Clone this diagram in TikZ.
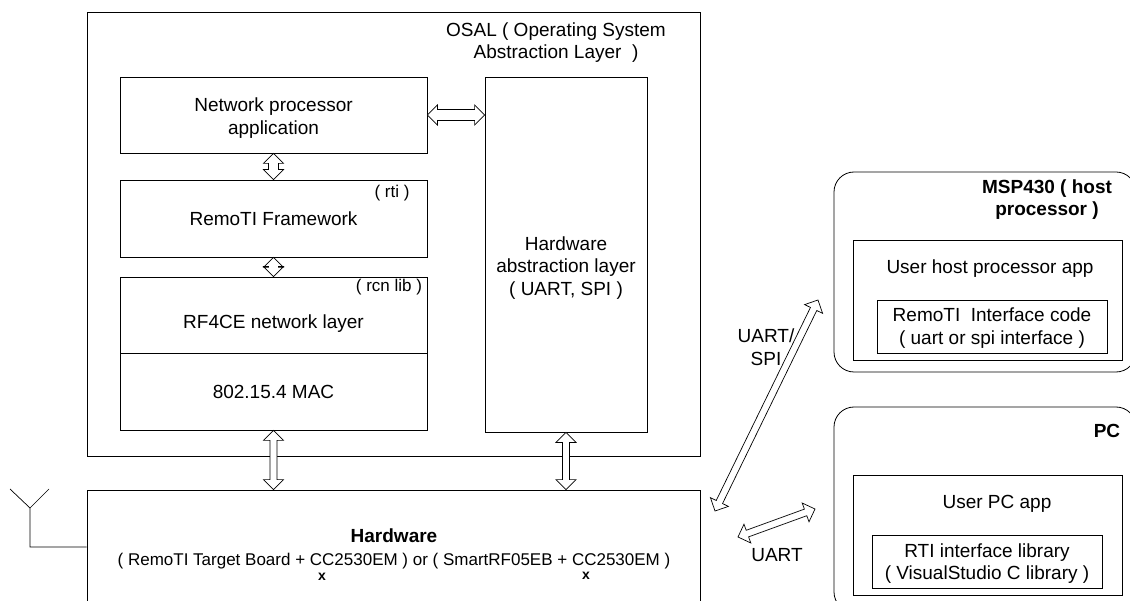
\documentclass[tikz,border=0pt]{standalone}
\usepackage{fontspec}
\setmainfont{Liberation Sans}
\usetikzlibrary{calc}

\newcommand{\smalltxt}{\fontsize{17}{22.7}\selectfont}

\tikzset{
  every node/.style={font=\fontsize{19}{22.7}\selectfont, align=center},
  box/.style={draw, line width=0.8pt, inner sep=0pt, minimum width=#1},
  roundbox/.style={draw, line width=0.8pt, rounded corners=20pt},
  % hollow arrow with a head on each end, #1 is half the shaft
  dblarrow/.style={draw, line width=0.7pt, fill=white, to path={
    -- ($(\tikztostart)!10pt!(\tikztotarget)!10pt!90:(\tikztotarget)$)
    -- ($(\tikztostart)!10pt!(\tikztotarget)!#1!90:(\tikztotarget)$)
    -- ($(\tikztotarget)!10pt!(\tikztostart)!#1!-90:(\tikztostart)$)
    -- ($(\tikztotarget)!10pt!(\tikztostart)!10pt!-90:(\tikztostart)$)
    -- (\tikztotarget)
    -- ($(\tikztotarget)!10pt!(\tikztostart)!10pt!90:(\tikztostart)$)
    -- ($(\tikztotarget)!10pt!(\tikztostart)!#1!90:(\tikztostart)$)
    -- ($(\tikztostart)!10pt!(\tikztotarget)!#1!-90:(\tikztotarget)$)
    -- ($(\tikztostart)!10pt!(\tikztotarget)!10pt!-90:(\tikztotarget)$)
    -- cycle}},
  dblarrow/.default=3.5pt
}

\begin{document}
\begin{tikzpicture}[x=1pt, y=-1pt]
  \useasboundingbox (0,0) rectangle (1130,601);

  % left part
  \draw[line width=0.8pt] (87,12) rectangle (700,456);
  \node (osal) at (556,42.5) {OSAL ( Operating System\\Abstraction Layer\ \ )};

  \node[box=307pt, minimum height=76pt] (npa) at (273.5,115) {};
  \node (npatext) at (273.5,118) {Network processor\\application};
  \node[box=307pt, minimum height=77pt] (rti) at (273.5,218.5) {RemoTI Framework};
  \node (rtitag) at (392,193) {\smalltxt ( rti )};
  \node[box=307pt, minimum height=76pt] (nwk) at (273.5,315) {};
  \node (nwktext) at (273.5,324) {RF4CE network layer};
  \node (nwktag) at (389,287) {\smalltxt ( rcn lib )};
  \node[box=307pt, minimum height=77pt] (mac) at (273.5,391.5) {802.15.4 MAC};
  \node[box=162pt, minimum height=355pt] (hal) at (566,254.5) {};
  \node (haltext) at (566,268) {Hardware\\abstraction layer\\( UART, SPI )};

  \node[box=613pt, minimum height=120pt] (hw) at (393.5,550) {};
  \node (hwtext) at (394,549) {\textbf{Hardware}\\\smalltxt ( RemoTI Target Board + CC2530EM ) or ( SmartRF05EB + CC2530EM )};
  \node (xa) at (322,576.5) {\fontsize{14}{15}\selectfont\bfseries x};
  \node (xb) at (586,576) {\fontsize{14}{15}\selectfont\bfseries x};

  % antenna
  \coordinate (antfoot) at (30,547);
  \coordinate (anttop) at (30,508);
  \coordinate (antl) at (10,489);
  \coordinate (antr) at (49,489);
  \draw[line width=0.7pt] (hw.west|-antfoot) -- (antfoot) -- (anttop) -- (antl);
  \draw[line width=0.7pt] (anttop) -- (antr);

  % right part
  \draw[roundbox] (834,172) rectangle (1136,372);
  \node (msp) at (1047,199.5) {\textbf{MSP430 ( host}\\\textbf{processor )}};
  \node[box=269pt, minimum height=120pt] (hostapp) at (987.5,300) {};
  \node (hostapptext) at (990,269) {User host processor app};
  \node[box=230pt, minimum height=53pt] (remotiif) at (992,326.5) {};
  \node (remotiiftext) at (992,328) {RemoTI\ \ Interface code\\( uart or spi interface )};

  \draw[roundbox] (834,407) rectangle (1136,612);
  \node (pc) at (1107,431) {\textbf{PC}};
  \node[box=269pt, minimum height=120pt] (pcapp) at (987.5,535) {};
  \node (pcapptext) at (997,504) {User PC app};
  \node[box=230pt, minimum height=53pt] (rtilib) at (987,561.5) {};
  \node (rtilibtext) at (987,563.5) {RTI interface library\\( VisualStudio C library )};

  % connections
  \path[dblarrow=5pt] (npa.south) to (rti.north);
  \path[dblarrow=5pt] (rti.south) to (nwk.north);
  \path[dblarrow] (mac.south) to (mac.south|-hw.north);
  \path[dblarrow] (hal.south) to (hal.south|-hw.north);
  \path[dblarrow=5.5pt] (npa.east) to (hal.west|-npa.east);

  \coordinate (linka) at (715,511);
  \coordinate (linkb) at (818,300);
  \coordinate (linkc) at (738,537);
  \coordinate (linkd) at (815,509);
  \path[dblarrow] (linka) to (linkb);
  \path[dblarrow] (linkc) to (linkd);
  \node (linkab) at (766,347.5) {UART/\\SPI};
  \node (linkcd) at (777,555) {UART};
\end{tikzpicture}
\end{document}
